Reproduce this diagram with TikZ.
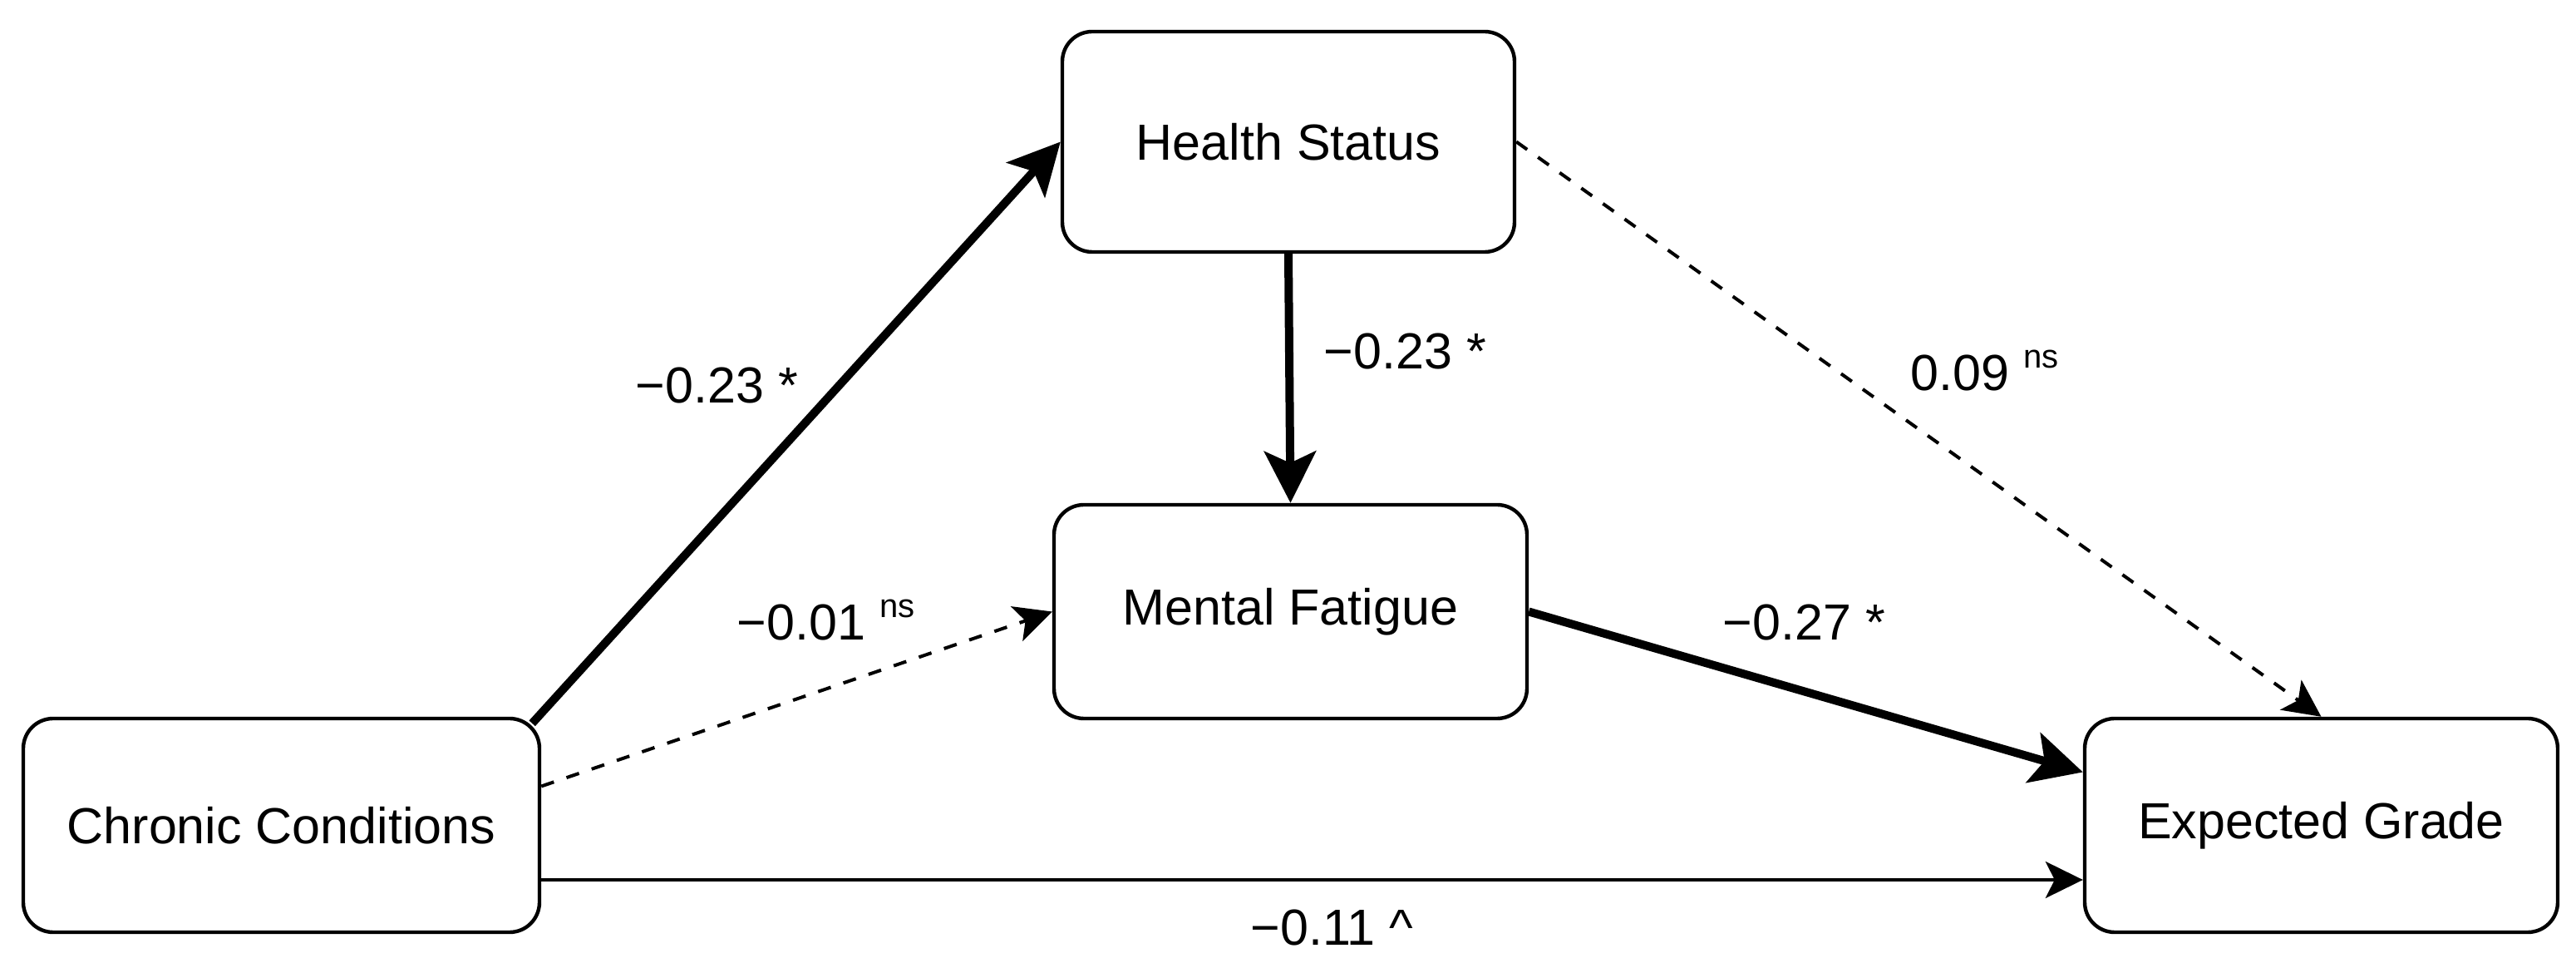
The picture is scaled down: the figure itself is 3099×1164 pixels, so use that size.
\documentclass[tikz,border=0pt]{standalone}
\usepackage{fontspec}
\setmainfont{Liberation Sans}
\usetikzlibrary{arrows.meta}
\newcommand\nssup{\raisebox{6.75pt}{\fontsize{10pt}{12pt}\selectfont ns}}
\tikzset{
  box/.style={draw, line width=1.1pt, rounded corners=9pt, inner sep=0pt, align=center,
    font=\fontsize{15.25pt}{18pt}\selectfont},
  lbl/.style={anchor=base west, inner sep=0pt, font=\fontsize{15.25pt}{18pt}\selectfont},
  thickarrow/.style={line width=2.5pt, -{Stealth[length=15.5pt, width=15.5pt, inset=3.5pt]}},
  thinarrow/.style={line width=1pt, -{Stealth[length=11.25pt, width=11pt, inset=2.75pt]}},
  dasharrow/.style={thinarrow, dash pattern=on 4pt off 4pt}
}
\begin{document}
\begin{tikzpicture}[x=0.25pt, y=-0.25pt]
\useasboundingbox (0,0) rectangle (3099,1164);
\node[box, minimum width=155.25pt, minimum height=64.25pt] (chronic) at (338.5,992.5) {Chronic Conditions};
\node[box, minimum width=136pt, minimum height=66.25pt] (health) at (1550,170.5) {Health Status};
\node[box, minimum width=142.25pt, minimum height=64.25pt] (mental) at (1552.5,735.5) {Mental Fatigue};
\node[box, minimum width=142.25pt, minimum height=64.25pt] (expected) at (2792.5,992.5) {Expected Grade};

\draw[thickarrow] ([shift={(-11,8)}]chronic.north east) -- (health.west);
\draw[thickarrow] (health.south) -- (mental.north);
\draw[dasharrow] ([shift={(0,-47)}]chronic.east) -- (mental.west);
\draw[dasharrow] (health.east) -- (expected.north);
\draw[thickarrow] (mental.east) -- ([shift={(0,-64)}]expected.west);
\draw[thinarrow] ([shift={(0,65.5)}]chronic.east) -- ([shift={(0,65.5)}]expected.west);

\node[lbl] (l1) at (764,485) {−0.23 *};
\node[lbl] (l2) at (886,770) {−0.01 \nssup};
\node[lbl] (l3) at (1592,444) {−0.23 *};
\node[lbl] (l4) at (2298,470) {0.09 \nssup};
\node[lbl] (l5) at (2072,770) {−0.27 *};
\node[lbl] (l6) at (1504,1137) {−0.11 \textasciicircum};
\end{tikzpicture}
\end{document}
